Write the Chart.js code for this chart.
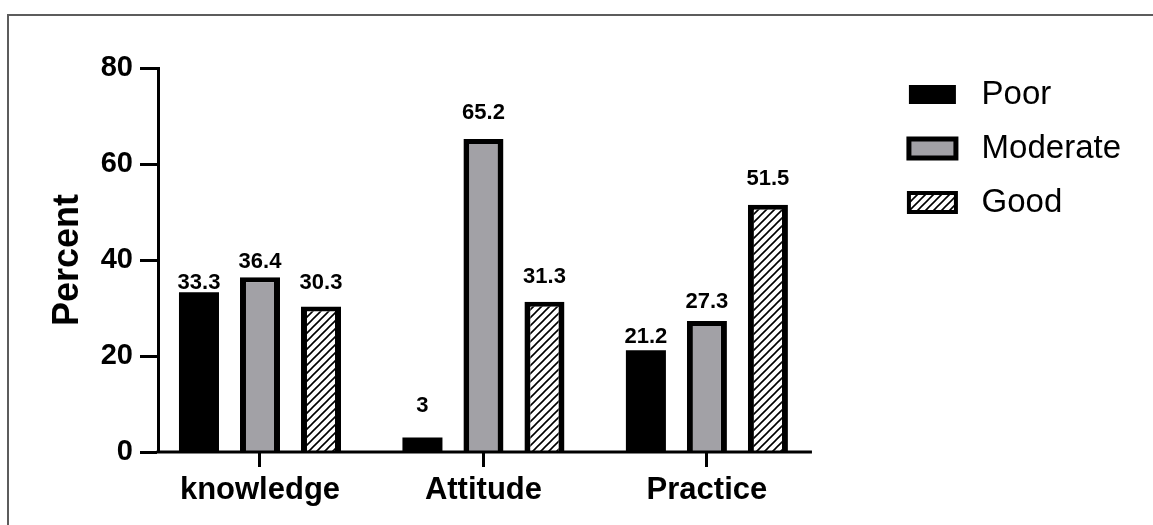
<!DOCTYPE html>
<html>
<head>
<meta charset="utf-8">
<title>Percent by level</title>
<script src="https://cdn.jsdelivr.net/npm/chart.js@4.4.0/dist/chart.umd.min.js"></script>
<style>
  html, body { margin: 0; padding: 0; background: #fff; }
  canvas { display: block; }
</style>
</head>
<body>
<canvas id="chart" width="1153" height="525"></canvas>
<script>
// ---- data ----
const categories = ['knowledge', 'Attitude', 'Practice'];
const seriesNames = ['Poor', 'Moderate', 'Good'];
const poor = [33.3, 3, 21.2];
const moderate = [36.4, 65.2, 27.3];
const good = [30.3, 31.3, 51.5];
const yTicks = [0, 20, 40, 60, 80];

// ---- styling ----
// gap (px) between each bar top and the baseline of its value label
const poorLabelGap = [3, 26, 7];
const moderateLabelGap = [9, 20, 13];
const goodLabelGap = [18, 19, 20];

const FONT = "'Liberation Sans', Arial, Helvetica, sans-serif";
const GREY = '#a2a1a6';
const X_MIN = -0.4564;   // category units, left edge of plot
const X_MAX = 2.81;      // right edge of plot area (legend starts here)
const X_AXIS_END = 2.47; // where the horizontal axis line stops

Chart.defaults.font.family = FONT;
Chart.defaults.color = '#000';

// diagonal hatch used by the "Good" bars
function makeHatch() {
  const s = 8;
  const c = document.createElement('canvas');
  c.width = s; c.height = s;
  const g = c.getContext('2d');
  g.fillStyle = '#fff';
  g.fillRect(0, 0, s, s);
  g.strokeStyle = '#000';
  g.lineWidth = 1.6;
  g.beginPath();
  g.moveTo(-1, s + 1); g.lineTo(s + 1, -1);
  g.moveTo(-s / 2 - 1, s / 2 + 1); g.lineTo(s / 2 + 1, -s / 2 - 1);
  g.moveTo(s / 2 - 1, s * 1.5 + 1); g.lineTo(s * 1.5 + 1, s / 2 - 1);
  g.stroke();
  return document.getElementById('chart').getContext('2d').createPattern(c, 'repeat');
}
const hatch = makeHatch();

const toPoints = arr => arr.map((v, i) => ({ x: i, y: v }));
const border = { top: 5, left: 6, right: 6, bottom: 0 };

const datasets = [
  { label: seriesNames[0], data: toPoints(poor), backgroundColor: '#000', borderWidth: 0,
    labelGap: poorLabelGap, legendFill: '#000', legendLine: 0 },
  { label: seriesNames[1], data: toPoints(moderate), backgroundColor: GREY, borderColor: '#000', borderWidth: border,
    labelGap: moderateLabelGap, legendFill: GREY, legendLine: 5 },
  { label: seriesNames[2], data: toPoints(good), backgroundColor: hatch, borderColor: '#000', borderWidth: border,
    labelGap: goodLabelGap, legendFill: hatch, legendLine: 4 }
];

// outer frame lines (top and left)
const framePlugin = {
  id: 'frame',
  beforeDraw(chart) {
    const ctx = chart.ctx;
    ctx.save();
    ctx.strokeStyle = '#5c5c5c';
    ctx.lineWidth = 2;
    ctx.beginPath();
    ctx.moveTo(8, chart.height);
    ctx.lineTo(8, 15);
    ctx.lineTo(chart.width, 15);
    ctx.stroke();
    ctx.restore();
  }
};

// horizontal axis line, drawn up to X_AXIS_END on the x scale
const xAxisLine = {
  id: 'xAxisLine',
  afterDatasetsDraw(chart) {
    const { ctx, chartArea, scales } = chart;
    const yPix = scales.y.getPixelForValue(0);
    ctx.save();
    ctx.strokeStyle = '#000';
    ctx.lineWidth = 3;
    ctx.beginPath();
    ctx.moveTo(chartArea.left - 1.5, yPix);
    ctx.lineTo(scales.x.getPixelForValue(X_AXIS_END), yPix);
    ctx.stroke();
    ctx.restore();
  }
};

// value labels above each bar
const valueLabels = {
  id: 'valueLabels',
  afterDatasetsDraw(chart) {
    const { ctx, scales } = chart;
    ctx.save();
    ctx.font = 'bold 22px ' + FONT;
    ctx.fillStyle = '#000';
    ctx.textAlign = 'center';
    ctx.textBaseline = 'alphabetic';
    chart.data.datasets.forEach((ds, di) => {
      const meta = chart.getDatasetMeta(di);
      meta.data.forEach((bar, i) => {
        const v = ds.data[i].y;
        ctx.fillText(String(v), bar.x, scales.y.getPixelForValue(v) - ds.labelGap[i]);
      });
    });
    ctx.restore();
  }
};

new Chart(document.getElementById('chart'), {
  type: 'bar',
  data: { datasets },
  plugins: [framePlugin, xAxisLine, valueLabels],
  options: {
    responsive: false,
    animation: false,
    devicePixelRatio: 1,
    categoryPercentage: 0.819,
    barPercentage: 0.656,
    layout: { padding: { left: 20, right: 22, top: 68, bottom: 0 } },
    plugins: {
      tooltip: { enabled: false },
      legend: {
        position: 'right',
        align: 'start',
        title: { display: true, text: '', font: { size: 10 }, padding: { top: -23, bottom: 0 } },
        labels: {
          boxWidth: 47,
          boxHeight: 19,
          padding: 21,
          color: '#000',
          font: { size: 33, family: FONT },
          generateLabels(chart) {
            return chart.data.datasets.map((ds, i) => ({
              text: ' ' + ds.label,
              fillStyle: ds.legendFill,
              strokeStyle: '#000',
              lineWidth: ds.legendLine,
              hidden: false,
              datasetIndex: i
            }));
          }
        }
      }
    },
    scales: {
      x: {
        type: 'linear',
        offset: false,
        min: X_MIN,
        max: X_MAX,
        afterBuildTicks(scale) { scale.ticks = categories.map((_, i) => ({ value: i })); },
        afterFit(scale) { scale.height = 73; },
        ticks: {
          callback: v => categories[v],
          font: { size: 31, weight: 'bold' },
          color: '#000',
          padding: 5,
          maxRotation: 0,
          autoSkip: false
        },
        grid: { offset: false, drawOnChartArea: false, drawTicks: true, tickLength: 15, tickWidth: 3, tickColor: '#000', lineWidth: 3, color: '#000' },
        border: { display: false }
      },
      y: {
        min: 0,
        max: 80,
        afterBuildTicks(scale) { scale.ticks = yTicks.map(v => ({ value: v })); },
        afterFit(scale) { scale.width = 158 - 20; },
        ticks: { font: { size: 29, weight: 'bold' }, color: '#000', padding: 7 },
        grid: { drawOnChartArea: false, drawTicks: true, tickLength: 18, tickWidth: 3, tickColor: '#000' },
        border: { display: true, color: '#000', width: 3 },
        title: {
          display: true,
          text: 'Percent',
          font: { size: 36, weight: 'bold' },
          color: '#000',
          padding: { top: 26, bottom: 0 }
        }
      }
    }
  }
});
</script>
</body>
</html>
